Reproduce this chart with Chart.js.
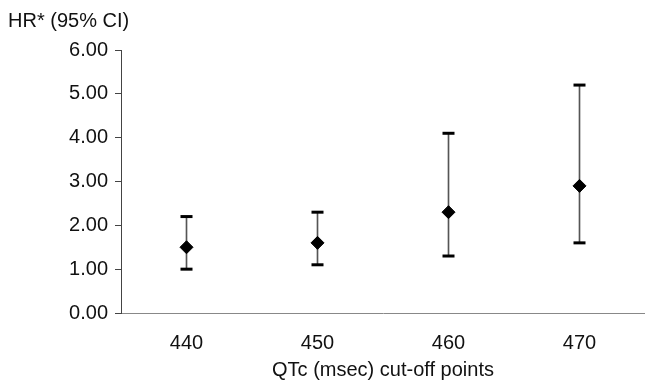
<!DOCTYPE html>
<html>
<head>
<meta charset="utf-8">
<script src="https://cdn.jsdelivr.net/npm/chart.js@4"></script>
<style>
  html, body { margin: 0; padding: 0; background: #fff; }
  #wrap { width: 645px; height: 386px; }
</style>
</head>
<body>
<div id="wrap"><canvas id="c" width="645" height="386"></canvas></div>
<script>
const categories = ['440', '450', '460', '470'];
const hr = [1.5, 1.6, 2.3, 2.9];
const ciLow = [1.0, 1.1, 1.3, 1.6];
const ciHigh = [2.2, 2.3, 4.1, 5.2];
const yTicks = [0, 1, 2, 3, 4, 5, 6];

const FONT = "'Liberation Sans', Arial, Helvetica, sans-serif";

new Chart(document.getElementById('c'), {
  type: 'bar',
  data: {
    labels: categories,
    datasets: [
      {
        type: 'bar',
        data: categories.map((c, i) => [ciLow[i], ciHigh[i]]),
        backgroundColor: '#555',
        borderWidth: 0,
        barThickness: 1,
        order: 3
      },
      {
        type: 'line',
        data: ciLow,
        showLine: false,
        pointStyle: 'line',
        pointRadius: 6,
        pointBorderWidth: 3,
        pointBorderColor: '#000',
        borderColor: '#000',
        order: 2
      },
      {
        type: 'line',
        data: ciHigh,
        showLine: false,
        pointStyle: 'line',
        pointRadius: 6,
        pointBorderWidth: 3,
        pointBorderColor: '#000',
        borderColor: '#000',
        order: 2
      },
      {
        type: 'line',
        data: hr,
        showLine: false,
        pointStyle: 'rectRot',
        pointRadius: 6.5,
        pointBackgroundColor: '#000',
        pointBorderColor: '#000',
        pointBorderWidth: 1,
        order: 1
      }
    ]
  },
  options: {
    responsive: false,
    animation: false,
    events: [],
    layout: { autoPadding: false, padding: { left: 8, right: 0, top: 0, bottom: 0 } },
    plugins: {
      legend: { display: false },
      tooltip: { enabled: false },
      title: {
        display: true,
        text: 'HR* (95% CI)',
        align: 'start',
        color: '#111',
        font: { family: FONT, size: 20, weight: 'normal' },
        padding: { top: 9, bottom: 17 }
      }
    },
    scales: {
      x: {
        type: 'category',
        offset: true,
        grid: { display: false, drawTicks: false },
        border: { display: true, color: '#888', width: 1 },
        ticks: {
          color: '#111',
          font: { family: FONT, size: 20 },
          padding: 18,
          maxRotation: 0
        },
        title: {
          display: true,
          text: 'QTc (msec) cut-off points',
          color: '#111',
          font: { family: FONT, size: 20 },
          padding: { top: 0, bottom: 4 }
        },
        afterFit: (scale) => {
          scale.height = 73;
          scale.paddingLeft = 0;
          scale.paddingRight = 0;
        }
      },
      y: {
        min: 0,
        max: 6,
        afterBuildTicks: (scale) => { scale.ticks = yTicks.map(v => ({ value: v })); },
        afterFit: (scale) => { scale.width = 113; },
        grid: {
          drawOnChartArea: false,
          drawTicks: true,
          tickLength: 6,
          color: '#444',
          lineWidth: 1
        },
        border: { display: true, color: '#444', width: 1 },
        ticks: {
          color: '#111',
          font: { family: FONT, size: 20 },
          padding: 7,
          callback: (v) => Number(v).toFixed(2)
        }
      }
    }
  }
});
</script>
</body>
</html>
